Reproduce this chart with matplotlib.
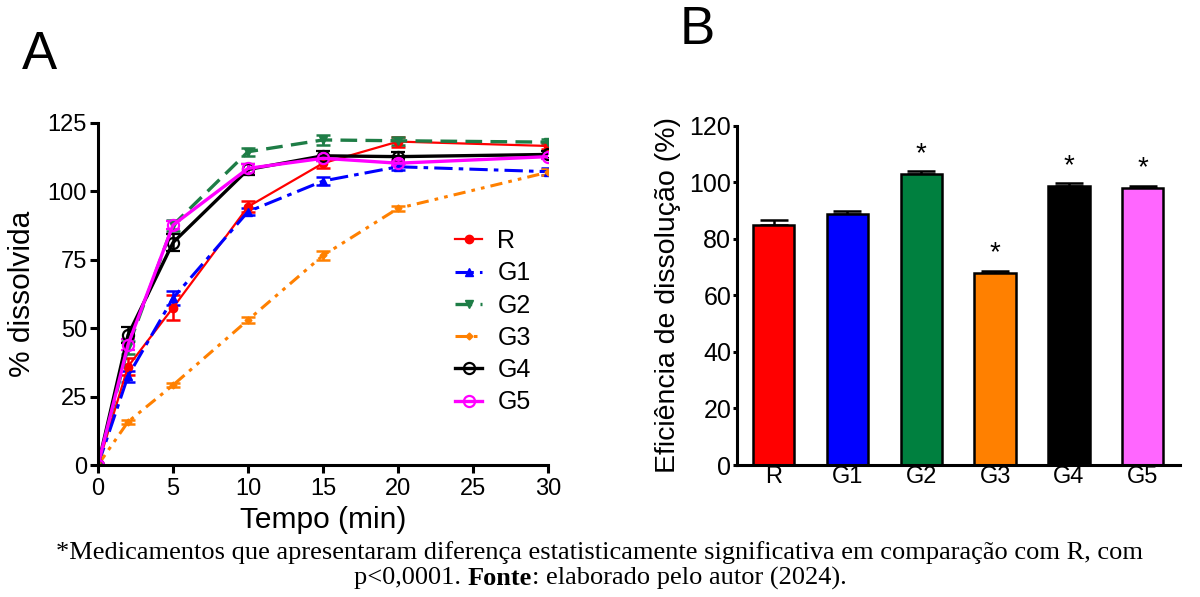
import numpy as np
import matplotlib
matplotlib.use('Agg')
import matplotlib.pyplot as plt
from matplotlib.lines import Line2D

plt.rcParams['font.family'] = ['Liberation Sans', 'DejaVu Sans']

# dissolution profiles (panel A)
tempo = [0, 2, 5, 10, 15, 20, 30]
R_mean = [0, 36.0, 57.5, 94.4, 110.3, 118.2, 116.6]
R_err = [0, 3.0, 4.5, 2.0, 1.8, 1.8, 1.2]
G1_mean = [0, 32.5, 61.0, 92.6, 103.8, 109.0, 107.2]
G1_err = [0, 2.0, 2.5, 1.2, 1.5, 1.2, 1.2]
G2_mean = [0, 43.0, 87.7, 114.5, 118.8, 118.5, 118.0]
G2_err = [0, 2.5, 2.0, 1.5, 1.8, 1.5, 1.0]
G3_mean = [0, 15.8, 29.2, 53.0, 76.6, 93.8, 107.0]
G3_err = [0, 0.8, 0.7, 1.2, 1.5, 0.8, 1.0]
G4_mean = [0, 47.5, 81.3, 108.0, 113.0, 112.7, 113.5]
G4_err = [0, 2.8, 3.0, 2.0, 1.8, 1.8, 1.2]
G5_mean = [0, 44.0, 87.7, 108.4, 112.1, 110.3, 112.7]
G5_err = [0, 2.0, 1.5, 1.5, 1.0, 1.0, 1.0]

# dissolution efficiency (panel B)
grupos = ['R', 'G1', 'G2', 'G3', 'G4', 'G5']
ed_mean = [84.8, 88.7, 103.0, 68.0, 98.7, 98.2]
ed_err = [2.0, 1.3, 1.0, 0.8, 1.0, 0.6]
signif = [False, False, True, True, True, True]

fig = plt.figure(figsize=[12.0, 5.97], dpi=100)

# ---- panel A
ax1 = fig.add_axes([0.0817, 0.2211, 0.375, 0.5729])
styles = [
    ('R', R_mean, R_err, dict(color='#ff0000', ls='-', lw=1.6, marker='o', ms=6, mfc='#ff0000')),
    ('G1', G1_mean, G1_err, dict(color='#0000ff', ls=(0, (6, 2, 1.5, 2)), lw=2.2, marker='^', ms=6, mfc='#0000ff')),
    ('G2', G2_mean, G2_err, dict(color='#1e7d46', ls=(0, (5, 2.5)), lw=2.4, marker='v', ms=6, mfc='#1e7d46')),
    ('G3', G3_mean, G3_err, dict(color='#ff8000', ls=(0, (4, 2, 1.2, 2, 1.2, 2)), lw=2.2, marker='D', ms=3.5, mfc='#ff8000')),
    ('G4', G4_mean, G4_err, dict(color='#000000', ls='-', lw=2.4, marker='o', ms=8, mfc='none', mew=1.6)),
    ('G5', G5_mean, G5_err, dict(color='#ff00ff', ls='-', lw=2.4, marker='o', ms=8, mfc='none', mew=1.6)),
]
hs = []
for name, m, e, kw in styles:
    ax1.errorbar(tempo, m, yerr=e, capsize=5, elinewidth=1.8, capthick=1.8, **kw)
    hs.append(Line2D([], [], label=name, **kw))

ax1.set_xlim(0, 30)
ax1.set_ylim(0, 125)
ax1.set_xticks([0, 5, 10, 15, 20, 25, 30])
ax1.set_yticks([0, 25, 50, 75, 100, 125])
for s in ['top', 'right']:
    ax1.spines[s].set_visible(False)
for s in ['left', 'bottom']:
    ax1.spines[s].set_linewidth(2.2)
ax1.tick_params(direction='out', width=2.2, length=6, labelsize=17)
ax1.tick_params(axis='y', pad=2)
ax1.set_xlabel('Tempo (min)', fontsize=21.5, labelpad=4)
ax1.set_ylabel('% dissolvida', fontsize=21.5, labelpad=8)
ax1.legend(handles=hs, loc='upper left', bbox_to_anchor=(0.793, 0.69), frameon=False,
           fontsize=18, handlelength=1.1, labelspacing=0.33, handletextpad=0.6,
           borderpad=0, borderaxespad=0)

# ---- panel B
ax2 = fig.add_axes([0.614, 0.2211, 0.369, 0.568])
xpos = np.arange(len(grupos))
colors = ['#ff0000', '#0000ff', '#00803f', '#ff8000', '#000000', '#ff66ff']
ax2.bar(xpos, ed_mean, width=0.56, color=colors, edgecolor='black', linewidth=1.8, zorder=2)
ax2.errorbar(xpos, ed_mean, yerr=[np.zeros(len(ed_err)), ed_err], fmt='none',
             ecolor='black', elinewidth=1.8, capsize=10, capthick=1.8, zorder=1)
for i in range(len(grupos)):
    if signif[i]:
        ax2.text(xpos[i], ed_mean[i] + ed_err[i] + 1.5, '*', ha='center', va='bottom', fontsize=20)
ax2.set_xlim(-0.5, len(grupos) - 0.5)
ax2.set_ylim(0, 120)
ax2.set_yticks([0, 20, 40, 60, 80, 100, 120])
ax2.set_xticks(xpos)
ax2.set_xticklabels(grupos)
for s in ['top', 'right']:
    ax2.spines[s].set_visible(False)
for s in ['left', 'bottom']:
    ax2.spines[s].set_linewidth(2.2)
ax2.tick_params(axis='y', direction='out', width=2.2, length=3, labelsize=18, pad=1)
ax2.tick_params(axis='x', length=0, labelsize=17, pad=1)
ax2.set_ylabel('Eficiência de dissolução (%)', fontsize=20.5, labelpad=6)

# panel letters
fig.text(0.018, 0.908, 'A', fontsize=38, va='center', ha='left')
fig.text(0.566, 0.95, 'B', fontsize=38, va='center', ha='left')

# caption
serif = ['Liberation Serif', 'DejaVu Serif']
fig.text(0.5, 0.075, '*Medicamentos que apresentaram diferença estatisticamente significativa em comparação com R, com',
         ha='center', va='center', fontsize=19, family=serif)
parts = [('p<0,0001. ', 'normal'), ('Fonte', 'bold'), (': elaborado pelo autor (2024).', 'normal')]
fig.canvas.draw()
r = fig.canvas.get_renderer()
ts = [fig.text(0, 0.031, p, ha='left', va='center', fontsize=19, family=serif, weight=w) for p, w in parts]
widths = [t.get_window_extent(r).width for t in ts]
x0 = (fig.bbox.width - sum(widths)) / 2
for t, w in zip(ts, widths):
    t.set_x(x0 / fig.bbox.width)
    x0 += w

plt.savefig('out.png', dpi=100)
